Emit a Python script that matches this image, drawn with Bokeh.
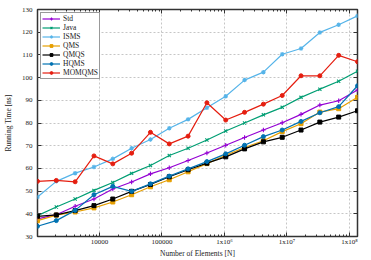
import numpy as np
from bokeh.plotting import figure
from bokeh.models import (FixedTicker, CustomJSTickFormatter, LinearAxis, LogAxis,
                          Legend, LegendItem, Range1d)
from bokeh.embed import file_html
from bokeh.resources import INLINE

# ---- data ----
N = [2 ** k for k in range(10, 28)]

std = [37.8, 39.6, 43.3, 46.5, 50.9, 54.0, 57.6, 60.3, 63.5, 66.8, 70.2, 73.6, 76.9, 80.1, 83.8, 87.9, 89.8, 94.5]
java = [39.2, 43.0, 46.5, 50.3, 53.8, 57.8, 61.3, 65.7, 68.9, 72.5, 76.5, 80.0, 83.6, 86.9, 91.3, 94.9, 98.4, 102.8]
isms = [47.4, 54.3, 57.9, 60.6, 64.2, 68.9, 72.7, 77.7, 81.6, 86.7, 91.8, 98.9, 102.4, 110.3, 112.8, 119.9, 123.3, 127.2]
qms = [37.0, 39.4, 40.8, 42.6, 45.2, 48.4, 51.9, 55.0, 58.5, 62.1, 65.8, 69.2, 72.2, 76.2, 79.7, 84.8, 86.3, 91.3]
qmqs = [38.9, 39.5, 41.4, 43.6, 46.5, 49.9, 52.9, 56.3, 59.4, 62.3, 65.1, 68.6, 71.7, 73.7, 76.9, 80.4, 82.6, 85.4]
hqms = [34.5, 37.0, 41.5, 48.4, 52.1, 49.9, 53.2, 56.6, 59.8, 63.0, 66.4, 70.2, 74.0, 76.9, 80.7, 84.5, 87.2, 96.4]
momqms = [54.3, 54.7, 54.1, 65.5, 62.0, 66.7, 75.9, 70.8, 74.2, 88.9, 81.3, 84.7, 88.3, 92.1, 100.8, 100.8, 109.8, 107.0]

series_names = ["Std", "Java", "ISMS", "QMS", "QMQS", "HQMS", "MOMQMS"]
series_values = [std, java, isms, qms, qmqs, hqms, momqms]
series_colors = ["#9400d3", "#009e73", "#56b4e9", "#e69f00", "#000000", "#0072b2", "#e51e10"]
series_markers = ["cross", "x", "asterisk", "square", "square", "circle", "circle"]

x_ticks = [1e4, 1e5, 1e6, 1e7, 1e8]
x_tick_labels = ["10000", "100000", "1x10\u2076", "1x10\u2077", "1x10\u2078"]
y_ticks = list(range(30, 131, 10))

FONT = "Liberation Serif"

p = figure(width=371, height=260, x_axis_type="log", output_backend="svg",
           toolbar_location=None,
           x_range=Range1d(N[0], N[-1]), y_range=Range1d(30, 130),
           min_border_left=35, min_border_right=14, min_border_top=9, min_border_bottom=23)
p.background_fill_color = "white"
p.border_fill_color = "white"
p.outline_line_color = "#333333"
p.outline_line_width = 1.5

minor = [m * 10 ** e for e in range(3, 9) for m in range(2, 10)]
xt = FixedTicker(ticks=x_ticks, minor_ticks=minor)
yt = FixedTicker(ticks=y_ticks, minor_ticks=[])
fmt = CustomJSTickFormatter(args=dict(tvals=x_ticks, tlabels=x_tick_labels), code="""
const i = tvals.findIndex(t => Math.abs(Math.log10(t) - Math.log10(tick)) < 1e-6);
return i >= 0 ? tlabels[i] : "";
""")

xa = p.xaxis[0]
xa.ticker = xt
xa.formatter = fmt
ya = p.yaxis[0]
ya.ticker = yt
for ax in (xa, ya):
    ax.axis_line_color = None
    ax.major_tick_in = 4
    ax.major_tick_out = 0
    ax.minor_tick_in = 2
    ax.minor_tick_out = 0
    ax.major_tick_line_color = "#333333"
    ax.minor_tick_line_color = "#333333"
    ax.major_label_text_font = FONT
    ax.major_label_text_font_size = "7px"
    ax.major_label_text_color = "#222222"
    ax.axis_label_text_font = FONT
    ax.axis_label_text_font_size = "7.5px"
    ax.axis_label_text_font_style = "normal"
    ax.axis_label_text_color = "#222222"
xa.major_label_standoff = 1
xa.axis_label_standoff = 0
ya.major_label_standoff = 5
ya.axis_label_standoff = 6
xa.axis_label = "Number of Elements [N]"
ya.axis_label = "Running Time [ns]"

# mirrored ticks
top = LogAxis(ticker=xt, major_label_text_font_size="1px", major_label_text_color=None,
              axis_line_color=None,
              major_tick_in=4, major_tick_out=0, minor_tick_in=2, minor_tick_out=0,
              major_tick_line_color="#333333", minor_tick_line_color="#333333",
              major_label_standoff=0)
right = LinearAxis(ticker=yt, major_label_text_font_size="1px", major_label_text_color=None,
                   axis_line_color=None,
                   major_tick_in=4, major_tick_out=0, minor_tick_in=0, minor_tick_out=0,
                   major_tick_line_color="#333333", major_label_standoff=0)
p.add_layout(top, "above")
p.add_layout(right, "right")

p.xgrid.ticker = xt
p.ygrid.ticker = yt
for g in (p.xgrid, p.ygrid):
    g.grid_line_color = "#b8b8b8"
    g.grid_line_dash = "2 2"
    g.grid_line_width = 0.8

items = []
for name, vals, col, mk in zip(series_names, series_values, series_colors, series_markers):
    r1 = p.line(N, vals, line_color=col, line_width=1.2)
    if mk in ("cross", "x", "asterisk"):
        r2 = p.scatter(N, vals, marker=mk, size=4.5, line_color=col, line_width=1.1)
    else:
        r2 = p.scatter(N, vals, marker=mk, size=4, line_color=col, fill_color=col, line_width=1)
    items.append(LegendItem(label=name, renderers=[r1, r2]))

legend = Legend(items=items, location="top_left")
legend.label_text_font = FONT
legend.label_text_font_size = "7.5px"
legend.label_text_color = "#222222"
legend.label_height = 6
legend.glyph_height = 7
legend.glyph_width = 18
legend.spacing = 0
legend.padding = 1
legend.margin = 3
legend.label_standoff = 3
legend.border_line_color = "#333333"
legend.border_line_width = 1
legend.background_fill_alpha = 1
p.add_layout(legend)

open("out.html", "w").write(file_html(p, INLINE))
